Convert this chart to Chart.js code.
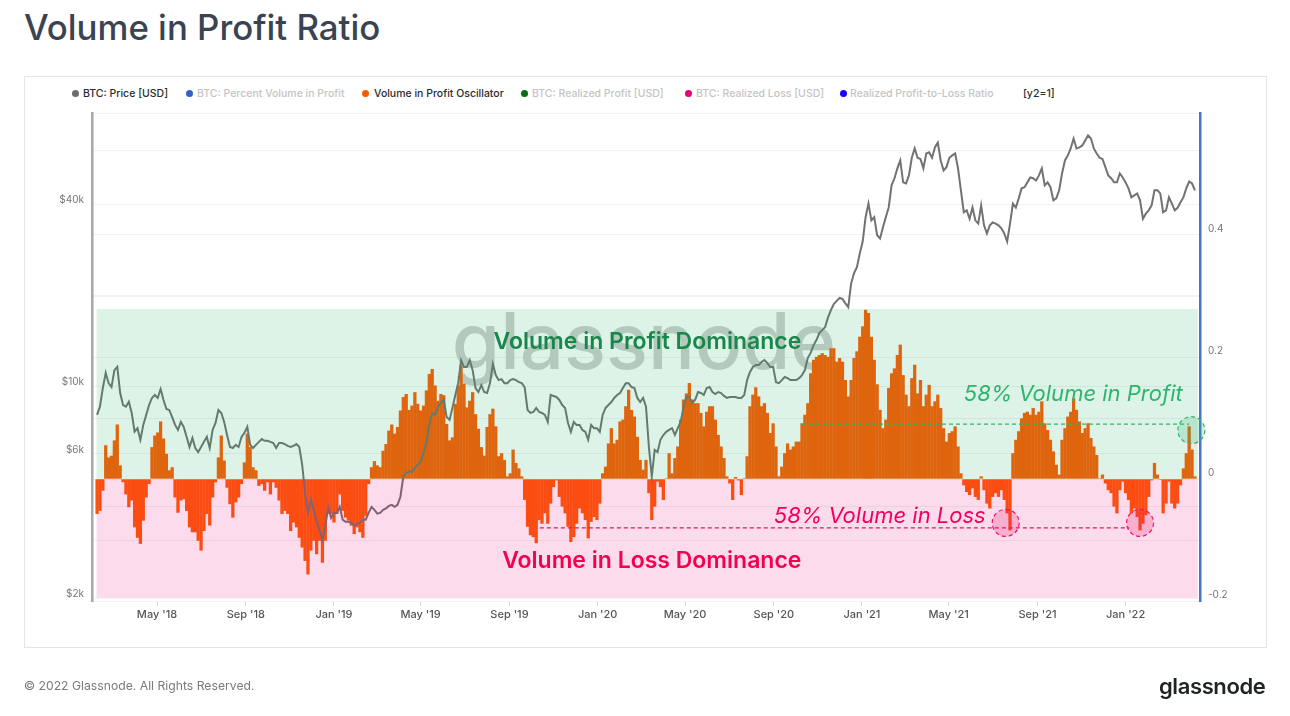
<!DOCTYPE html>
<html><head><meta charset="utf-8">
<script src="https://cdn.jsdelivr.net/npm/chart.js@4"></script>
<style>
html,body{margin:0;padding:0;background:#fff;width:1290px;height:716px;overflow:hidden;font-family:Inter,sans-serif}
#title{position:absolute;left:24px;top:6px;margin:0;font:500 34.8px/42px Inter,sans-serif;color:#3a4351;white-space:nowrap}
#card{position:absolute;left:24px;top:76px;width:1241px;height:570px;border:1px solid #e3e5e8;box-sizing:content-box}
canvas{position:absolute;left:0;top:0}
.lg{position:absolute;top:88px;font:500 10.5px/12px Inter,sans-serif;white-space:nowrap}
.dot{position:absolute;top:90px;width:7px;height:7px;border-radius:50%}
#copy{position:absolute;left:24px;top:678px;font:400 12.2px/15px Inter,sans-serif;color:#77797d;white-space:nowrap}
#logo{position:absolute;left:1159px;top:671px;font:600 22px/30px Inter,sans-serif;color:#1f2328;letter-spacing:-.4px;white-space:nowrap}
</style></head><body>
<h1 id="title">Volume in Profit Ratio</h1>
<div id="card"></div>
<div id="legend"></div>
<canvas id="c" width="1290" height="716"></canvas>
<div id="copy">© 2022 Glassnode. All Rights Reserved.</div>
<div id="logo">glassnode</div>
<script>
const oscillator = [
-.057,-.052,-.019,.055,.035,.038,.063,.089,.022,-.005,-.025,-.046,-.035,-.079,-.096,-.106,-.068,-.03,-.008,.052,
.071,.076,.094,.066,.041,.014,.019,-.03,-.055,-.035,-.033,-.052,-.079,-.087,-.087,-.101,-.117,-.085,-.057,-.076,
-.03,-.005,.035,.071,.03,-.014,-.041,-.063,-.038,-.03,-.008,.027,.074,.052,.019,.014,-.011,-.008,-.019,-.005,
-.025,-.005,-.014,-.035,-.057,-.052,-.057,-.085,-.071,-.079,-.096,-.112,-.134,-.156,-.117,-.101,-.123,-.101,-.137,-.101,
-.057,-.057,-.071,-.057,-.025,-.052,-.063,-.068,-.076,-.09,-.079,-.087,-.096,-.06,-.008,.019,.029,.022,.019,.046,
.057,.079,.089,.074,.085,.112,.134,.139,.113,.12,.142,.123,.112,.12,.145,.172,.18,.153,.128,.139,
.137,.09,.063,.068,.123,.153,.186,.156,.117,.128,.142,.106,.082,.052,.038,.085,.106,.115,.086,.037,
.042,.031,.004,.009,.048,.026,.017,.004,-.034,-.078,-.092,-.095,-.105,-.067,-.073,-.056,-.073,-.04,-.013,-.002,
-.029,-.045,-.056,-.078,-.103,-.095,-.073,-.048,-.056,-.067,-.097,-.07,-.062,-.067,-.04,.009,.02,.058,.083,.058,
.064,.094,.097,.119,.146,.113,.102,.069,.031,.015,.031,-.023,-.067,-.045,-.004,-.013,-.034,.001,.042,.009,
.034,.053,.097,.13,.14,.157,.13,.124,.124,.108,.086,.11,.119,.119,.097,.072,.053,.034,.004,-.007,
-.034,.003,-.002,-.026,.001,.037,.119,.138,.15,.135,.119,.124,.108,.075,.091,.053,.004,.02,.042,.058,
.048,.053,.061,.061,.091,.105,.124,.173,.195,.2,.203,.206,.203,.2,.214,.214,.192,.198,.192,.162,
.135,.162,.198,.209,.233,.25,.277,.272,.233,.195,.155,.113,.083,.097,.149,.173,.181,.203,.22,.17,
.138,.119,.165,.187,.14,.162,.119,.138,.154,.119,.127,.138,.116,.083,.061,.075,.078,.086,.053,.009,
-.01,-.021,-.026,-.015,-.029,-.034,.004,-.018,-.04,-.048,-.029,-.023,-.029,-.018,-.034,-.056,-.084,.042,.064,.078,
.099,.108,.11,.105,.116,.105,.11,.127,.091,.08,.064,.045,.023,.007,.064,.083,.102,.11,.132,.113,
.094,.075,.083,.091,.067,.053,.039,.001,.007,-.007,-.018,-.023,-.045,-.056,-.018,-.004,-.023,-.034,-.056,-.048,
-.062,-.084,-.073,-.059,-.029,-.002,.026,.007,-.001,-.056,-.04,-.004,-.04,-.048,-.04,-.01,.017,.042,.086,.048,.004];
const btcPrice = [
8048,8570,9880,11090,10250,9950,11320,11600,9510,8680,8570,8900,8170,7090,7280,6660,7460,8050,8680,9160,
9370,9160,9800,9020,8420,8360,7920,7460,7180,7630,7350,6810,6310,6760,6260,6070,6310,6560,6810,6260,
7180,7570,8360,8170,7630,6910,6310,6260,6410,6310,6810,7020,7350,6410,6260,6410,6560,6700,6610,6610,
6560,6500,6260,6500,6500,6450,6360,6310,6360,6450,6310,5510,4450,3820,4220,3910,3570,3360,3120,3440,
4000,3680,3820,3820,4000,3630,3570,3570,3540,3470,3510,3540,3630,3630,3820,4000,3910,3800,3820,3910,
3950,4030,4060,4000,4060,4320,5030,5180,5220,5220,5380,5510,5630,6030,6500,7460,8170,8050,8570,8810,
9020,7920,7750,8490,9370,10250,12200,11600,11600,12200,11320,9880,9580,10100,9580,9510,10250,11860,10900,10490,
10570,10250,10250,10490,10570,10490,10330,10250,9950,8360,8170,8230,8490,8230,8170,8050,7630,9370,9300,9230,
9020,8680,8490,7570,7080,7630,7460,7460,7180,7080,6660,7460,7280,7280,7080,8050,8490,8680,8880,9160,
9370,9510,9880,10250,10250,9950,9880,9160,8880,9160,8570,6310,5030,6170,6070,6660,6910,7080,7180,7280,
6910,7280,7630,8570,9230,9230,8810,9020,9580,9510,9370,9880,9950,9580,9440,9580,9510,9300,9160,9230,
9230,9230,9160,9160,9370,10490,11160,11600,11760,11760,12040,12220,11940,11600,11600,10330,10250,10490,10740,10650,
10490,10490,10490,10650,10900,11320,12430,12900,13690,14220,15000,15340,15700,16900,17860,18690,19160,19590,19450,18810,
18270,21900,23650,24750,27500,30100,36200,40200,35370,36200,31560,30800,33500,36200,39000,46140,48700,52500,55780,47200,
46800,49780,56900,61100,56900,56400,52500,58800,59300,56900,61600,63900,55780,51700,53000,56900,57940,58800,52500,44420,
37600,38160,35800,39000,35370,34500,39630,34050,32000,34050,34800,34500,34050,33300,32000,30100,34500,40200,39000,41800,
45100,45500,47200,49000,48700,47900,49780,52500,46140,47200,45500,41170,41800,44420,50500,55780,57940,61100,65900,61100,
61600,62510,64930,67440,65900,61100,58800,56900,56400,53000,49780,48700,47200,47200,50500,49000,47200,45100,42100,42760,
43400,41170,35800,37200,38160,39630,44420,44420,43400,37600,38160,42100,40200,38160,38900,40600,42100,45100,47500,46800,44420];
const firstSample = Date.UTC(2018,1,7);
const sampleStepDays = 4;
const sampleDates = oscillator.map((_,i)=>firstSample + i*sampleStepDays*864e5);

const tickDates = [[2018,4],[2018,8],[2019,0],[2019,4],[2019,8],[2020,0],[2020,4],[2020,8],[2021,0],[2021,4],[2021,8],[2022,0]];
const tickLabels = ["May '18","Sep '18","Jan '19","May '19","Sep '19","Jan '20","May '20","Sep '20","Jan '21","May '21","Sep '21","Jan '22"];
const priceTicks = [2000,4000,6000,10000,20000,40000,60000];
const priceLabels = {2000:"$2k",6000:"$6k",10000:"$10k",40000:"$40k"};
const ratioTicks = [-0.2,-0.1,0,0.1,0.2,0.3,0.4,0.6];
const ratioLabels = {"-0.2":"-0.2","0":"0","0.2":"0.2","0.4":"0.4"};
const legendNames = ["BTC: Price [USD]","BTC: Percent Volume in Profit","Volume in Profit Oscillator","BTC: Realized Profit [USD]","BTC: Realized Loss [USD]","Realized Profit-to-Loss Ratio"];
const legendColors = ["#6b6b6b","#3163c5","#ff5a00","#0c6b14","#e6007a","#1a00ff"];
const legendDotX = [72,186,362,521,685,840];
const legendTextX = [83,197,374,532,696,850];
const legendActive = [1,0,1,0,0,0];

const profitBand = [0,0.2787];
const lossBand = [-0.195,0];
const profitLine = {from:Date.UTC(2020,9,10), to:Date.UTC(2022,2,30), value:0.09};
const lossLine = {from:Date.UTC(2019,9,13), to:Date.UTC(2022,0,6), value:-0.08};
const profitCircles = [{date:Date.UTC(2022,3,2), value:0.08}];
const lossCircles = [{date:Date.UTC(2021,6,19), value:-0.072},{date:Date.UTC(2022,0,21), value:-0.072}];
const notes = [
 {t:"Volume in Profit Dominance",date:Date.UTC(2020,2,10),value:0.225,f:"600 23px Inter",c:"#17884a",a:"center"},
 {t:"Volume in Loss Dominance",date:Date.UTC(2020,2,16),value:-0.134,f:"600 23px Inter",c:"#f4004f",a:"center"},
 {t:"58% Volume in Profit",date:Date.UTC(2021,4,22),value:0.138,f:"italic 400 22px Inter",c:"#2db56f",a:"left"},
 {t:"58% Volume in Loss",date:Date.UTC(2020,8,1),value:-0.062,f:"italic 400 22px Inter",c:"#f4005a",a:"left"}
];

// legend text
const lg = document.getElementById('legend');
legendNames.forEach((n,i)=>{
  const d=document.createElement('div');d.className='dot';d.style.left=legendDotX[i]+'px';d.style.background=legendColors[i];lg.appendChild(d);
  const s=document.createElement('div');s.className='lg';s.style.left=legendTextX[i]+'px';s.style.color=legendActive[i]?'#2b2b2b':'#c4c4c4';s.textContent=n;lg.appendChild(s);
});
const y2=document.createElement('div');y2.className='lg';y2.style.left='1023px';y2.style.color='#2b2b2b';y2.textContent='[y2=1]';lg.appendChild(y2);

const overlay = {
  id:'overlay',
  beforeDatasetsDraw(chart){
    const {ctx}=chart;
    ctx.save();
    ctx.font='500 78px Inter';ctx.fillStyle='#cfcfcf';ctx.textAlign='center';ctx.textBaseline='alphabetic';
    ctx.fillText('glassnode',644,369);
    ctx.restore();
  },
  afterDatasetsDraw(chart){
    const {ctx,scales}=chart, X=scales.x, Y=scales.y2;
    const x0=X.getPixelForValue(firstSample)-.5, x1=X.getPixelForValue(Date.UTC(2022,3,11));
    ctx.save();
    ctx.fillStyle='rgba(20,170,90,0.14)';
    ctx.fillRect(x0,Y.getPixelForValue(profitBand[1]),x1-x0,Y.getPixelForValue(profitBand[0])-Y.getPixelForValue(profitBand[1]));
    ctx.fillStyle='rgba(230,0,120,0.14)';
    ctx.fillRect(x0,Y.getPixelForValue(lossBand[1]),x1-x0,Y.getPixelForValue(lossBand[0])-Y.getPixelForValue(lossBand[1]));
    const dash=(l,c)=>{ctx.beginPath();ctx.setLineDash([4,3]);ctx.lineWidth=1.3;ctx.strokeStyle=c;
      const y=Y.getPixelForValue(l.value);ctx.moveTo(X.getPixelForValue(l.from),y);ctx.lineTo(X.getPixelForValue(l.to),y);ctx.stroke();};
    dash(profitLine,'#2db56f');dash(lossLine,'#f0115f');
    const circ=(p,fill,c)=>{ctx.beginPath();ctx.setLineDash([4,3]);ctx.lineWidth=1.2;ctx.strokeStyle=c;ctx.fillStyle=fill;
      ctx.arc(X.getPixelForValue(p.date),Y.getPixelForValue(p.value),13.5,0,Math.PI*2);ctx.fill();ctx.stroke();};
    profitCircles.forEach(p=>circ(p,'rgba(45,181,111,0.22)','#2db56f'));
    lossCircles.forEach(p=>circ(p,'rgba(240,17,110,0.22)','#f0115f'));
    ctx.setLineDash([]);
    ctx.textBaseline='middle';
    notes.forEach(n=>{ctx.font=n.f;ctx.fillStyle=n.c;ctx.textAlign=n.a;ctx.fillText(n.t,X.getPixelForValue(n.date),Y.getPixelForValue(n.value));});
    ctx.restore();
  }
};

new Chart(document.getElementById('c').getContext('2d'),{
  data:{
    datasets:[
      {type:'line',label:'BTC: Price [USD]',yAxisID:'y',order:1,
       data:sampleDates.map((d,i)=>({x:d,y:btcPrice[i]})),
       borderColor:'#707372',borderWidth:2,pointRadius:0,tension:0,fill:false},
      {type:'bar',label:'Volume in Profit Oscillator',yAxisID:'y2',order:2,
       data:sampleDates.map((d,i)=>({x:d,y:oscillator[i]})),
       backgroundColor:'#ff5a00',borderWidth:0,barPercentage:1,categoryPercentage:1,inflateAmount:0.2}
    ]
  },
  options:{
    responsive:false,animation:false,devicePixelRatio:1,
    layout:{padding:{top:113,left:0,right:0,bottom:0}},
    plugins:{legend:{display:false},tooltip:{enabled:false}},
    scales:{
      x:{type:'linear',offset:false,min:Date.UTC(2018,0,31),max:Date.UTC(2022,3,14),
        afterFit(s){s.height=115;},
        afterBuildTicks(s){s.ticks=tickDates.map(d=>({value:Date.UTC(d[0],d[1],1)}));},
        grid:{offset:false,drawOnChartArea:false,drawTicks:true,tickLength:5,color:'#dcdcdc'},
        border:{display:false},
        ticks:{autoSkip:false,maxRotation:0,minRotation:0,padding:2,color:'#555',font:{family:'Inter',size:11,weight:'500'},
          callback(v){const i=tickDates.findIndex(d=>Date.UTC(d[0],d[1],1)===v);return i<0?'':tickLabels[i];}}
      },
      y:{type:'logarithmic',position:'left',min:1955,max:80000,
        afterFit(s){s.width=92;},
        afterBuildTicks(s){s.ticks=priceTicks.map(v=>({value:v}));},
        grid:{color:'#f1f1f1',drawTicks:false},
        border:{color:'#a8a8a8',width:2.5},
        ticks:{autoSkip:false,padding:8,labelOffset:-4,color:'#777',font:{family:'Inter',size:10},
          callback(v){return priceLabels[v]||'';}}
      },
      y2:{type:'linear',position:'right',min:-0.2,max:0.6,
        afterFit(s){s.width=90;},
        afterBuildTicks(s){s.ticks=ratioTicks.map(v=>({value:v}));},
        grid:{color:'#f1f1f1',drawTicks:false},
        border:{color:'#4a74cc',width:2.5},
        ticks:{autoSkip:false,padding:8,labelOffset:-6,color:'#777',font:{family:'Inter',size:10},
          callback(v){return ratioLabels[String(v)]||'';}}
      }
    }
  },
  plugins:[overlay]
});
</script>
</body></html>
